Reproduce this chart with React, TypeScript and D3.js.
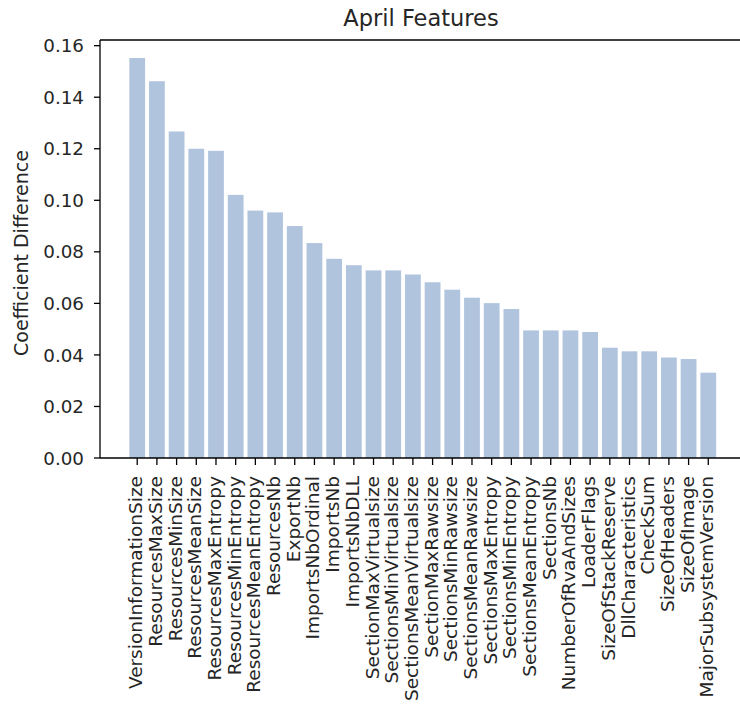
import React, { useEffect, useRef } from "react";
import * as d3 from "d3";

const features = [
  "VersionInformationSize",
  "ResourcesMaxSize",
  "ResourcesMinSize",
  "ResourcesMeanSize",
  "ResourcesMaxEntropy",
  "ResourcesMinEntropy",
  "ResourcesMeanEntropy",
  "ResourcesNb",
  "ExportNb",
  "ImportsNbOrdinal",
  "ImportsNb",
  "ImportsNbDLL",
  "SectionMaxVirtualsize",
  "SectionsMinVirtualsize",
  "SectionsMeanVirtualsize",
  "SectionMaxRawsize",
  "SectionsMinRawsize",
  "SectionsMeanRawsize",
  "SectionsMaxEntropy",
  "SectionsMinEntropy",
  "SectionsMeanEntropy",
  "SectionsNb",
  "NumberOfRvaAndSizes",
  "LoaderFlags",
  "SizeOfStackReserve",
  "DllCharacteristics",
  "CheckSum",
  "SizeOfHeaders",
  "SizeOfImage",
  "MajorSubsystemVersion",
];

const coefDiff = [
  0.1552, 0.1462, 0.1267, 0.12, 0.1192, 0.1021, 0.096, 0.0953, 0.09, 0.0834,
  0.0773, 0.0748, 0.0728, 0.0728, 0.0712, 0.0682, 0.0653, 0.0622, 0.0601,
  0.0578, 0.0495, 0.0495, 0.0495, 0.0489, 0.0428, 0.0414, 0.0414, 0.039,
  0.0384, 0.0331,
];

const yTicks = [0, 0.02, 0.04, 0.06, 0.08, 0.1, 0.12, 0.14, 0.16];

const W = 740;
const H = 710;
const FONT = "DejaVu Sans, sans-serif";
const TXT = "#262626";

export default function App() {
  const ref = useRef<SVGSVGElement>(null);

  useEffect(() => {
    const svg = d3.select(ref.current);
    svg.selectAll("*").remove();

    const left = 100;
    const right = 745.5;
    const top = 40;
    const bottom = 458;

    const n = features.length;
    // matplotlib style margins around the bars
    const x = d3
      .scaleLinear()
      .domain([-0.4 - 0.05 * (n - 0.2), n - 0.6 + 0.05 * (n - 0.2)])
      .range([left, right]);
    const y = d3.scaleLinear().domain([0, 0.1622]).range([bottom, top]);

    // bars
    svg
      .append("g")
      .selectAll("rect")
      .data(coefDiff)
      .join("rect")
      .attr("x", (d, i) => x(i - 0.4))
      .attr("width", x(0.8) - x(0))
      .attr("y", (d) => y(d))
      .attr("height", (d) => bottom - y(d))
      .attr("fill", "#b0c4de");

    // spines
    const sp = svg.append("g").attr("stroke", "#000").attr("stroke-width", 1.3);
    sp.append("line").attr("x1", left).attr("x2", left).attr("y1", top).attr("y2", bottom);
    sp.append("line").attr("x1", left).attr("x2", right).attr("y1", bottom).attr("y2", bottom);
    sp.append("line").attr("x1", left).attr("x2", right).attr("y1", top).attr("y2", top);
    sp.append("line").attr("x1", right).attr("x2", right).attr("y1", top).attr("y2", bottom);

    // y ticks
    const yg = svg.append("g");
    yTicks.forEach((t) => {
      yg.append("line")
        .attr("x1", left - 6)
        .attr("x2", left)
        .attr("y1", y(t))
        .attr("y2", y(t))
        .attr("stroke", "#000")
        .attr("stroke-width", 1.3);
      yg.append("text")
        .attr("x", left - 16)
        .attr("y", y(t))
        .attr("dy", "0.36em")
        .attr("text-anchor", "end")
        .attr("font-family", FONT)
        .attr("font-size", 18.3)
        .attr("fill", TXT)
        .text(d3.format(".2f")(t));
    });

    // x ticks + rotated labels
    const xg = svg.append("g");
    features.forEach((f, i) => {
      xg.append("line")
        .attr("x1", x(i))
        .attr("x2", x(i))
        .attr("y1", bottom)
        .attr("y2", bottom + 7)
        .attr("stroke", "#000")
        .attr("stroke-width", 1.3);
      xg.append("text")
        .attr("transform", `translate(${x(i)},${bottom + 18}) rotate(-90)`)
        .attr("dy", "0.27em")
        .attr("text-anchor", "end")
        .attr("font-family", FONT)
        .attr("font-size", 18.5)
        .attr("fill", TXT)
        .text(f);
    });

    // y label
    svg
      .append("text")
      .attr("transform", `translate(28,${(top + bottom) / 2 + 4}) rotate(-90)`)
      .attr("text-anchor", "middle")
      .attr("font-family", FONT)
      .attr("font-size", 19)
      .attr("fill", TXT)
      .text("Coefficient Difference");

    // title
    svg
      .append("text")
      .attr("x", 421)
      .attr("y", 26)
      .attr("text-anchor", "middle")
      .attr("font-family", FONT)
      .attr("font-size", 22.5)
      .attr("fill", TXT)
      .text("April Features");
  }, []);

  return (
    <svg
      ref={ref}
      width={W}
      height={H}
      style={{ position: "absolute", left: 0, top: 0, background: "#fff" }}
    />
  );
}
